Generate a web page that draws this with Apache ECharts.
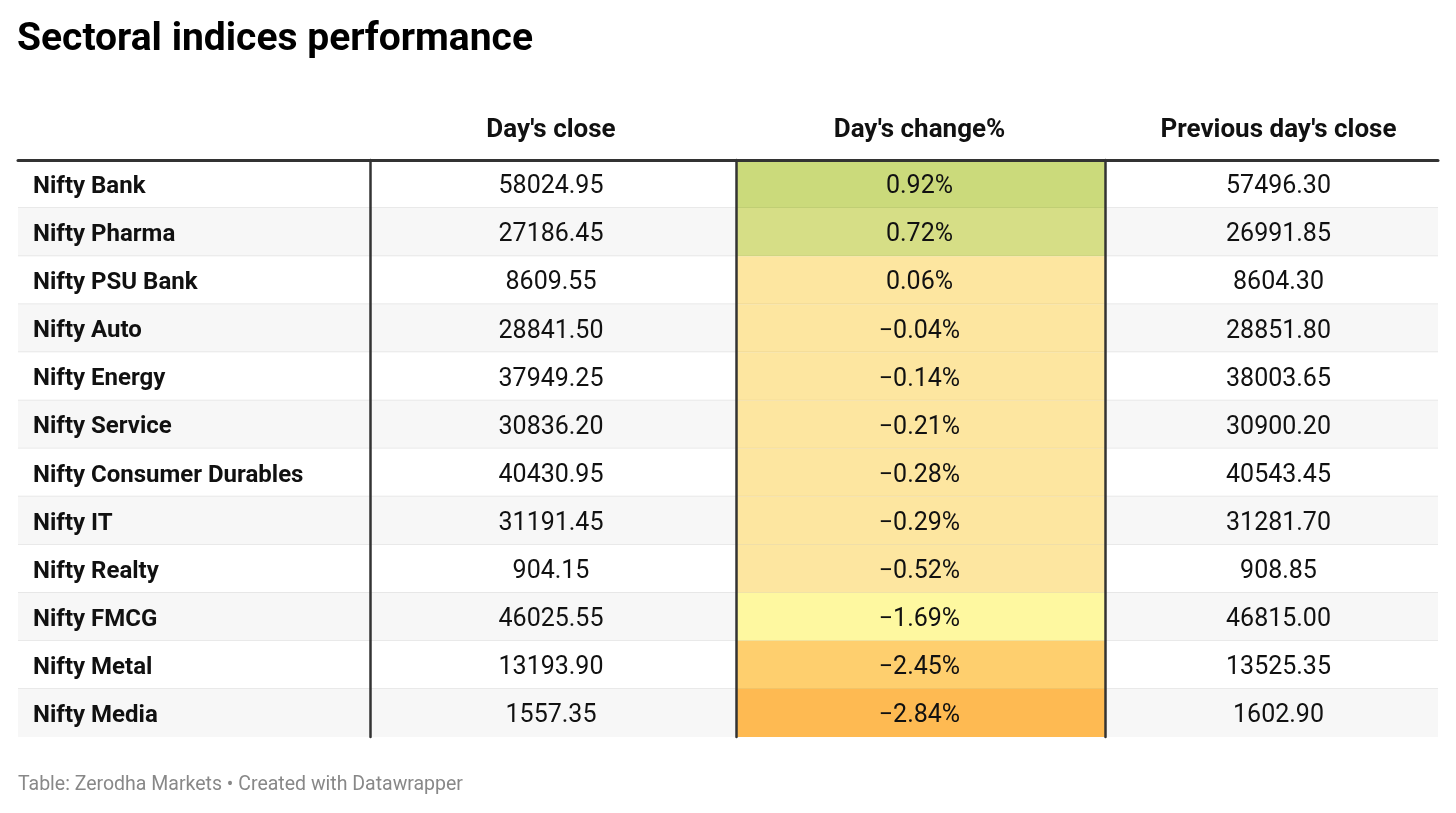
<!DOCTYPE html>
<html>
<head>
<meta charset="utf-8">
<script src="https://cdn.jsdelivr.net/npm/echarts@6/dist/echarts.min.js"></script>
<style>
  html, body { margin: 0; padding: 0; background: #fff; }
  #table { width: 1456px; height: 813px; }
</style>
</head>
<body>
<div id="table"></div>
<script>
const headers = ['', "Day's close", "Day's change%", "Previous day's close"]
const sectors = ['Nifty Bank', 'Nifty Pharma', 'Nifty PSU Bank', 'Nifty Auto', 'Nifty Energy',
  'Nifty Service', 'Nifty Consumer Durables', 'Nifty IT', 'Nifty Realty', 'Nifty FMCG',
  'Nifty Metal', 'Nifty Media']
const dayClose = [58024.95, 27186.45, 8609.55, 28841.50, 37949.25, 30836.20, 40430.95,
  31191.45, 904.15, 46025.55, 13193.90, 1557.35]
const dayChange = [0.92, 0.72, 0.06, -0.04, -0.14, -0.21, -0.28, -0.29, -0.52, -1.69, -2.45, -2.84]
const prevClose = [57496.30, 26991.85, 8604.30, 28851.80, 38003.65, 30900.20, 40543.45,
  31281.70, 908.85, 46815.00, 13525.35, 1602.90]

const FONT = 'Roboto, "Noto Sans", sans-serif'

// column layout (px); shift = nudge of the centred text
const cols = [
  { left: 18, width: 352, shift: 0 },
  { left: 370, width: 366, shift: -2 },
  { left: 736, width: 369, shift: -1 },
  { left: 1105, width: 333, shift: 7 }
]

function fmtNum(v) { return v.toFixed(2) }
function fmtPct(v) { return (v < 0 ? '\u2212' : '') + Math.abs(v).toFixed(2) + '%' }

function makeColumn(k, values, fmt, opts) {
  return {
    type: 'custom',
    xAxisIndex: k,
    yAxisIndex: k,
    data: values.map((v, i) => [0, i, v]),
    renderItem: function (params, api) {
      const i = params.dataIndex
      const c = api.coord([0, i])
      const s = api.size([1, 1])
      const x0 = c[0] - s[0] / 2
      const y0 = c[1] - s[1] / 2
      let fill = i % 2 === 1 ? '#f7f7f7' : '#ffffff'
      if (opts.colored) fill = api.visual('color')
      const children = [{
        type: 'rect',
        shape: { x: x0, y: y0, width: s[0], height: s[1] },
        style: { fill: fill }
      }]
      if (i < values.length - 1) {
        children.push({
          type: 'line',
          shape: { x1: x0, y1: y0 + s[1], x2: x0 + s[0], y2: y0 + s[1] },
          style: { stroke: opts.colored ? 'rgba(0,0,0,0.07)' : '#e2e2e2', lineWidth: 1.5 }
        })
      }
      children.push({
        type: 'text',
        style: {
          text: fmt(values[i]),
          x: opts.left ? x0 + 15 : c[0] + cols[k].shift,
          y: c[1] + 3,
          align: opts.left ? 'left' : 'center',
          verticalAlign: 'middle',
          fontFamily: FONT,
          fontSize: opts.left ? 24 : 25,
          fontWeight: opts.bold ? 'bold' : 'normal',
          fill: '#111'
        }
      })
      return { type: 'group', children: children }
    }
  }
}

const myChart = echarts.init(document.querySelector('#table'), null, { renderer: 'canvas' })

const option = {
  animation: false,
  title: [
    {
      text: 'Sectoral indices performance',
      left: 17,
      top: 21,
      padding: 0,
      textStyle: { fontFamily: FONT, fontSize: 39, fontWeight: 'bold', color: '#000' }
    },
    {
      text: 'Table: Zerodha Markets \u2022 Created with Datawrapper',
      left: 18,
      top: 775,
      padding: 0,
      textStyle: { fontFamily: FONT, fontSize: 19.5, fontWeight: 'normal', color: '#888' }
    }
  ],
  grid: cols.map(c => ({ left: c.left, width: c.width, top: 160, height: 577 })),
  xAxis: cols.map((c, k) => ({
    type: 'category',
    gridIndex: k,
    data: [headers[k]],
    position: 'top',
    z: 5,
    axisTick: { show: false },
    axisLine: { show: true, lineStyle: { color: '#333', width: 3 } },
    axisLabel: {
      margin: 17,
      padding: c.shift > 0 ? [0, 0, 0, 2 * c.shift] : [0, -2 * c.shift, 0, 0],
      fontFamily: FONT,
      fontSize: 26,
      fontWeight: 'bold',
      color: '#111'
    },
    splitLine: { show: false }
  })),
  yAxis: cols.map((c, k) => ({
    type: 'category',
    gridIndex: k,
    data: sectors,
    inverse: true,
    z: 5,
    axisTick: { show: false },
    axisLabel: { show: false },
    axisLine: { show: k > 0, lineStyle: { color: '#333', width: 2.5 } },
    splitLine: { show: false }
  })),
  visualMap: {
    type: 'piecewise',
    show: false,
    seriesIndex: 2,
    dimension: 2,
    pieces: [
      { min: 0.8, color: '#cbda7b' },
      { min: 0.5, max: 0.8, color: '#d6de86' },
      { min: -1, max: 0.5, color: '#fde6a0' },
      { min: -2, max: -1, color: '#fef8a0' },
      { min: -2.6, max: -2, color: '#fecf6e' },
      { max: -2.6, color: '#feba52' }
    ]
  },
  series: [
    makeColumn(0, sectors, v => v, { left: true, bold: true }),
    makeColumn(1, dayClose, fmtNum, {}),
    makeColumn(2, dayChange, fmtPct, { colored: true }),
    makeColumn(3, prevClose, fmtNum, {})
  ]
}

myChart.setOption(option)
</script>
</body>
</html>
